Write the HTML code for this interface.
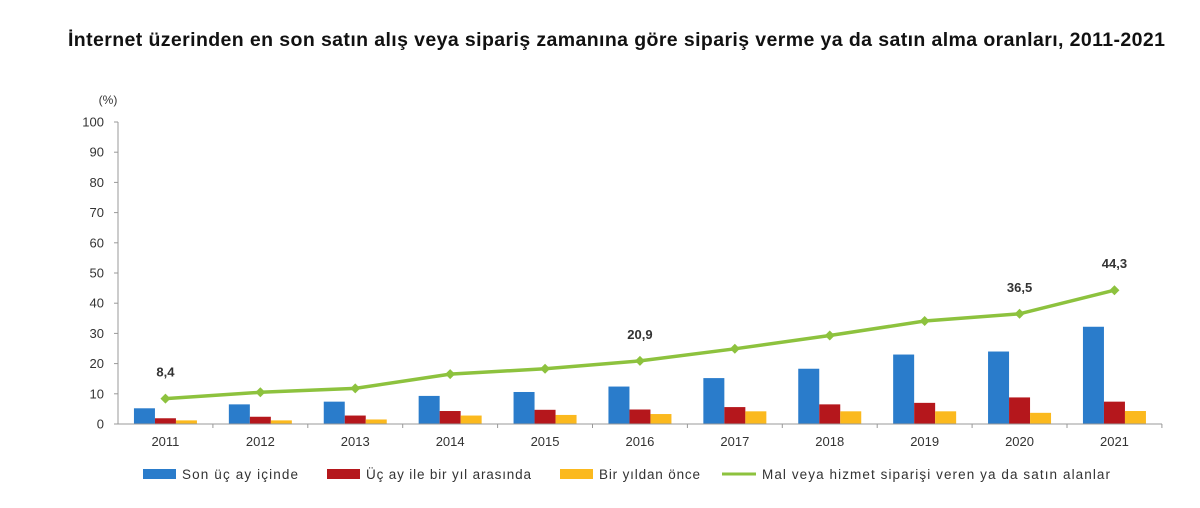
<!DOCTYPE html><html><head><style>body{margin:0;background:#fff}svg{display:block}text{font-family:"Liberation Sans",sans-serif}</style></head><body>
<svg width="1200" height="508" viewBox="0 0 1200 508" xmlns="http://www.w3.org/2000/svg">
<text x="68" y="46" font-size="19.5" font-weight="bold" fill="#111" textLength="1097" lengthAdjust="spacing">İnternet üzerinden en son satın alış veya sipariş zamanına göre sipariş verme ya da satın alma oranları, 2011-2021</text>
<text x="108" y="104" text-anchor="middle" font-size="12" fill="#333">(%)</text>
<g font-size="13" fill="#333" text-anchor="end" id="y"></g>
<g id="c"></g>
<line x1="118" y1="122" x2="118" y2="424" stroke="#999"/>
<line x1="118" y1="424" x2="1162" y2="424" stroke="#999"/>
<g font-size="13.5" fill="#333">
<rect x="143" y="469" width="33" height="10" fill="#2a7ccb"/><text x="182" y="479" textLength="116" lengthAdjust="spacing">Son üç ay içinde</text>
<rect x="327" y="469" width="33" height="10" fill="#b5171c"/><text x="366" y="479" textLength="165" lengthAdjust="spacing">Üç ay ile bir yıl arasında</text>
<rect x="560" y="469" width="33" height="10" fill="#fbb91e"/><text x="599" y="479" textLength="101" lengthAdjust="spacing">Bir yıldan önce</text>
<line x1="722" y1="474" x2="756" y2="474" stroke="#8dc23e" stroke-width="3"/><text x="762" y="479" textLength="348" lengthAdjust="spacing">Mal veya hizmet siparişi veren ya da satın alanlar</text>
</g>
</svg>
<script>
var ns="http://www.w3.org/2000/svg",s=document.querySelector('svg'),yg=document.getElementById('y'),c=document.getElementById('c');
function el(t,a,p){var e=document.createElementNS(ns,t);for(var k in a)e.setAttribute(k,a[k]);(p||c).appendChild(e);return e}
function Y(v){return 424-v*3.02}
for(var i=0;i<=100;i+=10){var t=el('text',{x:104,y:Y(i)+4.5},yg);t.textContent=i;el('line',{x1:114,y1:Y(i),x2:118,y2:Y(i),stroke:'#999'})}
var W=94.9,b=[5.2,6.5,7.4,9.3,10.6,12.4,15.2,18.3,23,24,32.2],r=[1.9,2.4,2.8,4.3,4.7,4.8,5.6,6.5,7,8.8,7.4],yl=[1.2,1.2,1.5,2.8,3,3.3,4.2,4.2,4.2,3.7,4.3],l=[8.4,10.5,11.8,16.5,18.3,20.9,24.9,29.3,34.1,36.5,44.3];
var pts=[];
for(var i=0;i<11;i++){var cx=118+W*(i+.5);
[[b,'#2a7ccb'],[r,'#b5171c'],[yl,'#fbb91e']].forEach(function(d,j){el('rect',{x:cx-31.5+j*21,y:Y(d[0][i]),width:21,height:d[0][i]*3.02,fill:d[1]})});
el('line',{x1:118+W*(i+1),y1:424,x2:118+W*(i+1),y2:428,stroke:'#999'});
var t=el('text',{x:cx,y:446,'text-anchor':'middle','font-size':13,fill:'#333'});t.textContent=2011+i;
pts.push(cx+','+Y(l[i]));}
el('polyline',{points:pts.join(' '),fill:'none',stroke:'#8dc23e','stroke-width':3.5});
pts.forEach(function(p){var q=p.split(',');el('path',{d:'M'+(q[0]-5)+' '+q[1]+'l5-5 5 5-5 5z',fill:'#8dc23e'})});
[[0,'8,4'],[5,'20,9'],[9,'36,5'],[10,'44,3']].forEach(function(a){var t=el('text',{x:118+W*(a[0]+.5),y:Y(l[a[0]])-22,'text-anchor':'middle','font-size':13,'font-weight':'bold',fill:'#333'});t.textContent=a[1]});
</script></body></html>
